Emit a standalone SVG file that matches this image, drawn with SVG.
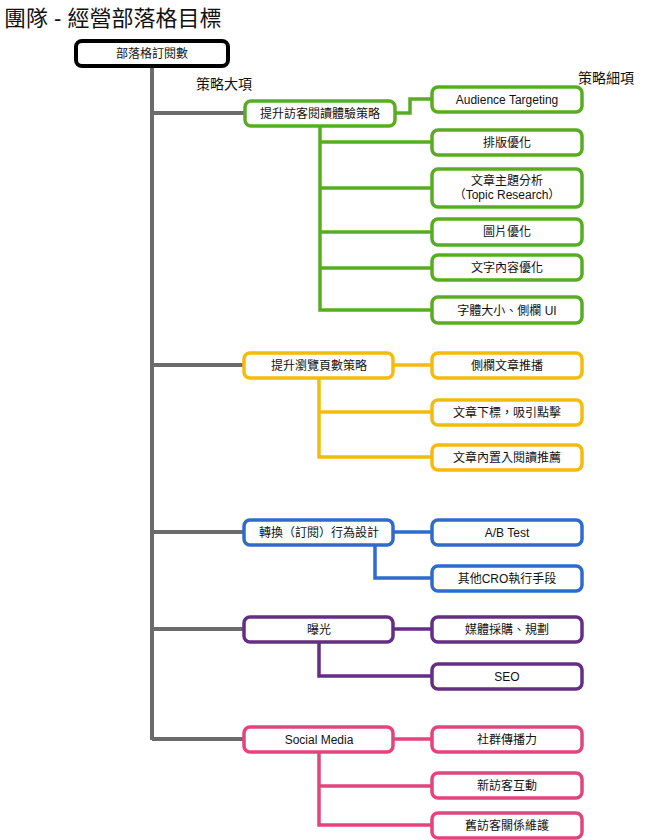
<svg xmlns="http://www.w3.org/2000/svg" width="646" height="840" viewBox="0 0 646 840">
<style>
text{font-family:"Liberation Sans","Noto Sans CJK TC",sans-serif;fill:#111;text-anchor:middle}
.t{font-size:12px}
rect{fill:#fff;stroke-width:3.5}
.c{fill:none;stroke-width:3.5}
.g{stroke:#57ad22}.y{stroke:#f5bb0a}.b{stroke:#2d6ccc}.p{stroke:#652e86}.k{stroke:#e2447d}
</style>
<rect width="646" height="840" style="fill:#fff;stroke:none"/>
<text x="4" y="26" style="font-size:22px;text-anchor:start">團隊 - 經營部落格目標</text>
<text x="224" y="89" style="font-size:14px">策略大項</text>
<text x="606" y="83" style="font-size:14px">策略細項</text>
<g id="connectors">
<path d="M152 66V740M152 113H245M152 365H245M152 532H245M152 629H245M152 739H245" fill="none" stroke="#6b6b6b" stroke-width="4"/>
<path class="c g" d="M395 113H410V99H432M320 126V310H432M320 142H432M320 188H432M320 232H432M320 268H432"/>
<path class="c y" d="M393 365H432M319 378V457H432M319 412H432"/>
<path class="c b" d="M393 532H432M375 545V578H432"/>
<path class="c p" d="M393 629H432M319 642V676H432"/>
<path class="c k" d="M393 739H432M319 752V825H432M319 786H432"/>
</g>
<g id="root"><rect x="76" y="41" width="152" height="25" rx="6" style="stroke:#000;stroke-width:4"/><text class="t" x="152" y="58">部落格訂閱數</text></g>
<g id="g1"><rect class="g" x="245" y="101" width="150" height="25" rx="6"/><text class="t" x="320" y="118">提升訪客閱讀體驗策略</text></g>
<g id="g1a"><rect class="g" x="432" y="87" width="150" height="25" rx="6"/><text class="t" x="507" y="104">Audience Targeting</text></g>
<g id="g1b"><rect class="g" x="432" y="130" width="150" height="25" rx="6"/><text class="t" x="507" y="147">排版優化</text></g>
<g id="g1c"><rect class="g" x="432" y="169" width="150" height="38" rx="6"/><text class="t" x="507" y="185">文章主題分析</text><text class="t" x="507" y="199">（Topic Research）</text></g>
<g id="g1d"><rect class="g" x="432" y="219" width="150" height="26" rx="6"/><text class="t" x="507" y="236">圖片優化</text></g>
<g id="g1e"><rect class="g" x="432" y="255" width="150" height="25" rx="6"/><text class="t" x="507" y="272">文字內容優化</text></g>
<g id="g1f"><rect class="g" x="432" y="297" width="150" height="26" rx="6"/><text class="t" x="507" y="315">字體大小、側欄 UI</text></g>
<g id="g2"><rect class="y" x="244" y="353" width="149" height="25" rx="6"/><text class="t" x="319" y="370">提升瀏覽頁數策略</text></g>
<g id="g2a"><rect class="y" x="432" y="353" width="150" height="25" rx="6"/><text class="t" x="507" y="370">側欄文章推播</text></g>
<g id="g2b"><rect class="y" x="432" y="400" width="150" height="25" rx="6"/><text class="t" x="507" y="417">文章下標，吸引點擊</text></g>
<g id="g2c"><rect class="y" x="432" y="445" width="150" height="25" rx="6"/><text class="t" x="507" y="462">文章內置入閱讀推薦</text></g>
<g id="g3"><rect class="b" x="244" y="520" width="149" height="25" rx="6"/><text class="t" x="319" y="537">轉換（訂閱）行為設計</text></g>
<g id="g3a"><rect class="b" x="432" y="520" width="150" height="25" rx="6"/><text class="t" x="507" y="537">A/B Test</text></g>
<g id="g3b"><rect class="b" x="432" y="566" width="150" height="25" rx="6"/><text class="t" x="507" y="583">其他CRO執行手段</text></g>
<g id="g4"><rect class="p" x="244" y="617" width="149" height="25" rx="6"/><text class="t" x="319" y="634">曝光</text></g>
<g id="g4a"><rect class="p" x="432" y="617" width="150" height="25" rx="6"/><text class="t" x="507" y="634">媒體採購、規劃</text></g>
<g id="g4b"><rect class="p" x="432" y="664" width="150" height="25" rx="6"/><text class="t" x="507" y="681">SEO</text></g>
<g id="g5"><rect class="k" x="244" y="727" width="149" height="25" rx="6"/><text class="t" x="319" y="744">Social Media</text></g>
<g id="g5a"><rect class="k" x="432" y="727" width="150" height="25" rx="6"/><text class="t" x="507" y="744">社群傳播力</text></g>
<g id="g5b"><rect class="k" x="432" y="773" width="150" height="25" rx="6"/><text class="t" x="507" y="790">新訪客互動</text></g>
<g id="g5c"><rect class="k" x="432" y="813" width="150" height="25" rx="6"/><text class="t" x="507" y="830">舊訪客關係維護</text></g>
</svg>
